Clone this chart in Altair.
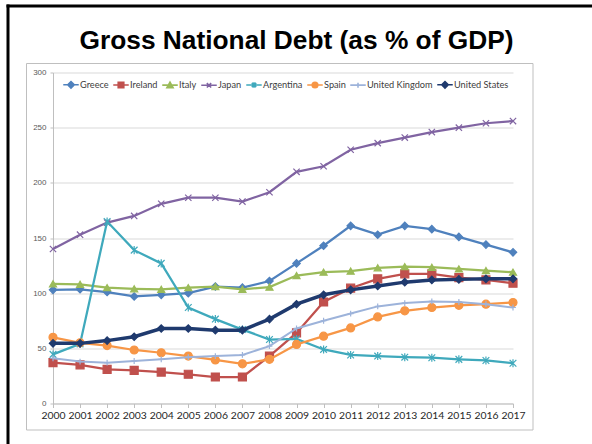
import altair as alt
import pandas as pd

years = list(range(2000, 2018))
countries = ["Greece", "Ireland", "Italy", "Japan", "Argentina", "Spain",
             "United Kingdom", "United States"]

greece = [103, 103.5, 101, 97, 98.5, 100, 106, 105, 111, 127, 143, 161, 153, 161, 158, 151, 144, 137]
ireland = [37, 35, 31, 30, 28.5, 26.5, 24, 24, 43, 64, 92, 104.5, 113, 117.5, 117.5, 114, 112, 109]
italy = [108.5, 108, 105, 104, 103.5, 105, 106, 103.5, 105.5, 116, 119, 120, 123, 124, 123.5, 122, 120.5, 119]
japan = [140, 153, 164, 170, 181, 186.5, 186.5, 183, 191.5, 210, 215, 230, 236, 241, 246, 250, 254, 256]
argentina = [44.5, 54, 165, 139, 127, 87, 76.5, 67, 58, 58.5, 49, 44, 43, 42, 41.5, 40, 39, 36.5]
spain = [60, 55, 52.5, 48.5, 46, 43, 39.5, 36, 40, 53.5, 61, 68.5, 78.5, 84, 87, 89, 90, 91.5]
uk = [41, 38, 37, 38.5, 40, 42, 43, 44, 52, 68, 75, 81.5, 88, 91, 92.5, 92, 90, 87]
us = [54.5, 54.5, 57, 60.5, 68, 68, 66.5, 66.5, 76.5, 90, 98.5, 103, 106.5, 110, 112, 112.5, 113, 113]

series = [greece, ireland, italy, japan, argentina, spain, uk, us]

colors = ["#4F81BD", "#C0504D", "#9BBB59", "#8064A2", "#3FA9BC", "#F79646",
          "#9DB3DA", "#1F3A6E"]
shapes = ["diamond", "square", "triangle-up", "M-1,-1L1,1M-1,1L1,-1",
          "M-1,-1L1,1M-1,1L1,-1M0,-1.2L0,1.2", "circle", "M-1,0L1,0M0,-1L0,1",
          "diamond"]
legend_shapes = [
    "M-1,0L1,0M-0.42,0L0,-0.42L0.42,0L0,0.42Z",
    "M-1,0L1,0M-0.36,-0.36L0.36,-0.36L0.36,0.36L-0.36,0.36Z",
    "M-1,0L1,0M0,-0.4L0.4,0.32L-0.4,0.32Z",
    "M-1,0L1,0M-0.28,-0.28L0.28,0.28M-0.28,0.28L0.28,-0.28",
    "M-1,0L1,0M-0.28,-0.28L0.28,0.28M-0.28,0.28L0.28,-0.28M0,-0.36L0,0.36",
    "M-1,0L1,0M-0.36,0A0.36,0.36,0,1,0,0.36,0A0.36,0.36,0,1,0,-0.36,0Z",
    "M-1,0L1,0M0,-0.32L0,0.32",
    "M-1,0L1,0M-0.42,0L0,-0.42L0.42,0L0,0.42Z",
]
sizes = [55, 64, 50, 40, 45, 64, 34, 55]
widths = [2.25, 2.25, 2.25, 2.25, 2.25, 2.25, 2, 3.5]

rows = []
for c, vals in zip(countries, series):
    for y, v in zip(years, vals):
        rows.append({"Country": c, "Year": y, "Debt": v})
df = pd.DataFrame(rows)

FONT = "Liberation Sans"

color_scale = alt.Scale(domain=countries, range=colors)

x_axis = alt.Axis(values=years, format="d", title=None, grid=False,
                  labelFlush=False, labelOverlap=False,
                  labelFontSize=10.4, labelColor="#262626",
                  labelFont="Lato", labelPadding=3,
                  domainColor="#BFBFBF", tickColor="#BFBFBF", tickSize=4)
y_axis = alt.Axis(values=[0, 50, 100, 150, 200, 250, 300], title=None,
                  grid=True, gridColor="#D9D9D9",
                  domainColor="#BFBFBF", tickColor="#BFBFBF",
                  tickSize=3, labelFontSize=8, labelColor="#595959",
                  labelFont=FONT, labelPadding=4)

x_enc = alt.X("Year:Q", scale=alt.Scale(domain=[2000, 2017], nice=False), axis=x_axis)
y_enc = alt.Y("Debt:Q", scale=alt.Scale(domain=[0, 300], nice=False), axis=y_axis)

legend_def = alt.Legend(
    title=None, orient="none", legendX=9, legendY=3, direction="horizontal",
    symbolSize=240, symbolStrokeWidth=1.6, labelOffset=0, columnPadding=1,
    padding=0, labelFont="Lato", labelFontSize=9.2, labelColor="#404040",
    symbolOpacity=1,
)

# invisible layer (zero-size points) that only carries the legend
legend_layer = alt.Chart(df).mark_point(
    filled=True, strokeWidth=1.6, size=0
).encode(
    x=x_enc,
    y=y_enc,
    color=alt.Color("Country:N", scale=color_scale, legend=legend_def),
    stroke=alt.Stroke("Country:N", scale=color_scale, legend=legend_def),
    shape=alt.Shape("Country:N",
                    scale=alt.Scale(domain=countries, range=legend_shapes),
                    legend=legend_def),
)

series_layers = []
for c, shp, sz, w in zip(countries, shapes, sizes, widths):
    base = alt.Chart(df).transform_filter(alt.datum.Country == c)
    ln = base.mark_line(clip=False, strokeWidth=w).encode(
        x=x_enc, y=y_enc,
        color=alt.Color("Country:N", scale=color_scale, legend=None),
    )
    pt = base.mark_point(filled=True, shape=shp, size=sz, strokeWidth=1.2,
                         opacity=1, clip=False).encode(
        x=x_enc, y=y_enc,
        color=alt.Color("Country:N", scale=color_scale, legend=None),
        stroke=alt.Stroke("Country:N", scale=color_scale, legend=None),
    )
    series_layers += [ln, pt]

frame = alt.Chart(alt.Data(values=[{}])).mark_rect(
    fillOpacity=0, stroke="#BFBFBF", strokeWidth=1
).encode(x=alt.value(-26.5), x2=alt.value(480), y=alt.value(-9),
         y2=alt.value(357.5))

top_border = alt.Chart(alt.Data(values=[{}])).mark_rule(
    color="black", strokeWidth=3
).encode(x=alt.value(-46.5), x2=alt.value(545), y=alt.value(-66.5))

left_border = alt.Chart(alt.Data(values=[{}])).mark_rule(
    color="black", strokeWidth=3
).encode(x=alt.value(-45), y=alt.value(-68), y2=alt.value(380))

chart = alt.layer(legend_layer, frame, top_border, left_border, *series_layers).properties(
    width=460,
    height=331,
    padding={"left": 53, "top": 72.5, "right": 79, "bottom": 40.5},
    autosize=alt.AutoSizeParams(type="none"),
    background="white",
    title=alt.TitleParams("Gross National Debt (as % of GDP)", font=FONT,
                          fontSize=26.3, fontWeight="bold", color="black",
                          anchor="middle", dx=13.5, offset=0, dy=72,
                          baseline="alphabetic"),
).configure_view(stroke=None)

chart.save("out.html", embed_options={"renderer": "svg", "actions": False})
